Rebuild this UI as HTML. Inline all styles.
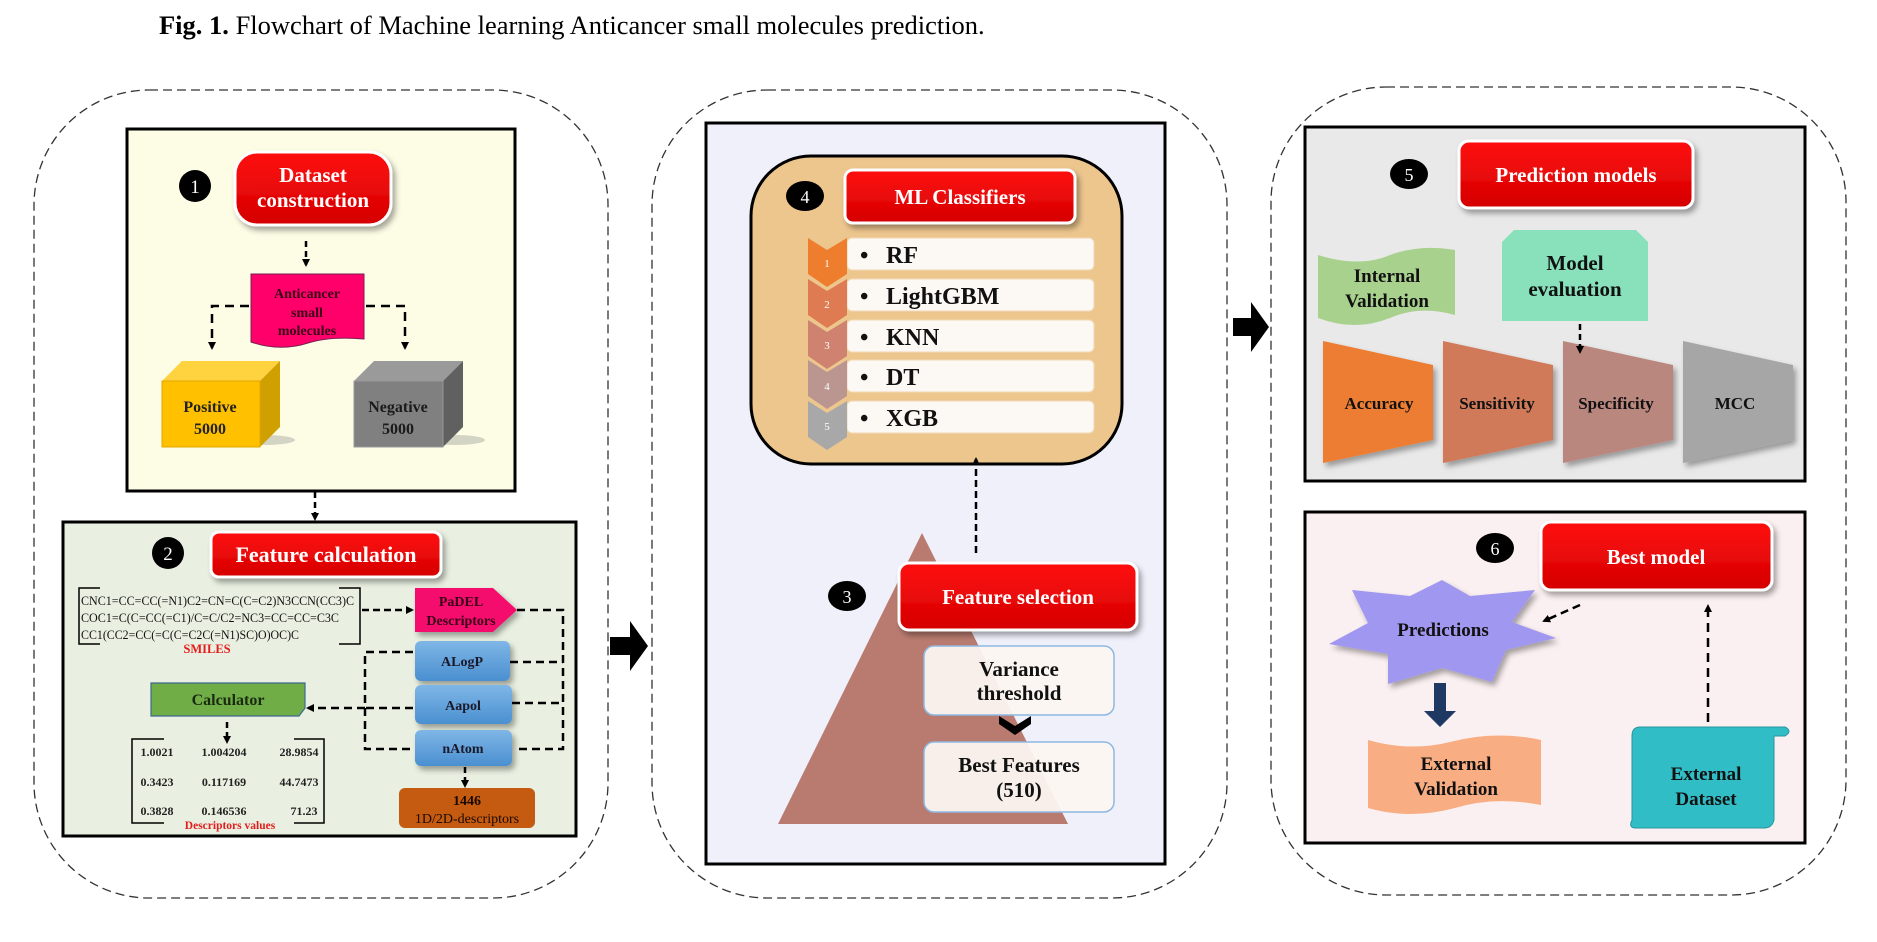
<!DOCTYPE html>
<html><head><meta charset="utf-8"><style>
html,body{margin:0;padding:0;background:#fff;}
svg{display:block;}
text{font-family:"Liberation Serif",serif;}
.b{font-weight:bold;}
</style></head><body>
<svg width="1877" height="942" viewBox="0 0 1877 942" xmlns="http://www.w3.org/2000/svg">
<defs>
<marker id="ah" markerWidth="8" markerHeight="8" refX="6" refY="4" orient="auto" markerUnits="userSpaceOnUse">
<path d="M0,0 L8,4 L0,8 z" fill="#000"/></marker>
<linearGradient id="red" x1="0" y1="0" x2="0" y2="1"><stop offset="0" stop-color="#ff1010"/><stop offset="1" stop-color="#d40000"/></linearGradient>
<linearGradient id="blue" x1="0" y1="0" x2="0" y2="1"><stop offset="0" stop-color="#7fb6e6"/><stop offset="1" stop-color="#4a8fd0"/></linearGradient>
<filter id="sh" x="-20%" y="-20%" width="140%" height="150%"><feDropShadow dx="3" dy="4" stdDeviation="3" flood-color="#000" flood-opacity="0.35"/></filter>
</defs>

<text x="159" y="34" font-size="26.5"><tspan class="b">Fig. 1.</tspan> Flowchart of Machine learning Anticancer small molecules prediction.</text>

<rect x="34" y="90" width="574" height="808" rx="115" fill="none" stroke="#333" stroke-width="1.3" stroke-dasharray="9,5"/>
<rect x="652" y="90" width="575" height="808" rx="115" fill="none" stroke="#333" stroke-width="1.3" stroke-dasharray="9,5"/>
<rect x="1271" y="87" width="575" height="808" rx="115" fill="none" stroke="#333" stroke-width="1.3" stroke-dasharray="9,5"/>

<path d="M610,637 h20 v-16 l18,25 l-18,25 v-16 h-20 z" fill="#000"/>
<path d="M1233,318 h18 v-16 l18,25 l-18,25 v-16 h-18 z" fill="#000"/>

<!-- Panel 1 -->
<rect x="127" y="129" width="388" height="362" fill="#fdfde6" stroke="#000" stroke-width="3"/>
<circle cx="195" cy="186" r="16" fill="#000"/><text x="195" y="193" font-size="19" fill="#fff" text-anchor="middle" font-family="Liberation Sans">1</text>
<rect x="235" y="152" width="156" height="73" rx="22" fill="url(#red)" stroke="#fff" stroke-width="3" filter="url(#sh)"/>
<text x="313" y="182" font-size="21" class="b" fill="#fff" text-anchor="middle">Dataset</text>
<text x="313" y="207" font-size="21" class="b" fill="#fff" text-anchor="middle">construction</text>
<line x1="306" y1="241" x2="306" y2="265" stroke="#000" stroke-width="2.5" stroke-dasharray="6,4" marker-end="url(#ah)"/>
<path d="M251,274 H364 V339 Q330,336 308,343 Q280,352 251,342 Z" fill="#ff006a" stroke="#7a1e50" stroke-width="1"/>
<text x="307" y="298" font-size="14" class="b" fill="#3a0018" text-anchor="middle">Anticancer</text>
<text x="307" y="317" font-size="14" class="b" fill="#3a0018" text-anchor="middle">small</text>
<text x="307" y="335" font-size="14" class="b" fill="#3a0018" text-anchor="middle">molecules</text>
<path d="M249,306 H212 V348" fill="none" stroke="#000" stroke-width="2.5" stroke-dasharray="9,6" marker-end="url(#ah)"/>
<path d="M366,306 H405 V348" fill="none" stroke="#000" stroke-width="2.5" stroke-dasharray="9,6" marker-end="url(#ah)"/>
<ellipse cx="265" cy="440" rx="30" ry="5" fill="#888" opacity="0.35"/>
<path d="M162,381 L182,361 H280 L260,381 Z" fill="#ffd23f"/>
<path d="M260,381 L280,361 V427 L260,447 Z" fill="#cfa000"/>
<rect x="162" y="381" width="98" height="66" fill="#ffc000" stroke="#e0a800" stroke-width="1"/>
<text x="210" y="412" font-size="16" class="b" text-anchor="middle" fill="#222">Positive</text>
<text x="210" y="434" font-size="16" class="b" text-anchor="middle" fill="#222">5000</text>
<ellipse cx="455" cy="440" rx="30" ry="5" fill="#888" opacity="0.35"/>
<path d="M354,381 L374,361 H463 L443,381 Z" fill="#9a9a9a"/>
<path d="M443,381 L463,361 V427 L443,447 Z" fill="#606060"/>
<rect x="354" y="381" width="89" height="66" fill="#808080" stroke="#999" stroke-width="1"/>
<text x="398" y="412" font-size="16" class="b" text-anchor="middle" fill="#1a1a1a">Negative</text>
<text x="398" y="434" font-size="16" class="b" text-anchor="middle" fill="#1a1a1a">5000</text>

<line x1="315" y1="492" x2="315" y2="519" stroke="#000" stroke-width="2.5" stroke-dasharray="6,4" marker-end="url(#ah)"/>

<!-- Box 2 -->
<rect x="63" y="522" width="513" height="314" fill="#e9f0e1" stroke="#000" stroke-width="3"/>
<circle cx="168" cy="553" r="16" fill="#000"/><text x="168" y="560" font-size="19" fill="#fff" text-anchor="middle" font-family="Liberation Sans">2</text>
<rect x="211" y="532" width="230" height="45" rx="8" fill="url(#red)" stroke="#fff" stroke-width="3" filter="url(#sh)"/>
<text x="326" y="562" font-size="22" class="b" fill="#fff" text-anchor="middle">Feature calculation</text>
<path d="M100,588 H79 V644 H100 M339,588 H360 V644 H339" fill="none" stroke="#000" stroke-width="1.5"/>
<text x="81" y="605" font-size="12.5" fill="#111" textLength="273" lengthAdjust="spacingAndGlyphs">CNC1=CC=CC(=N1)C2=CN=C(C=C2)N3CCN(CC3)C</text>
<text x="81" y="622" font-size="12.5" fill="#111" textLength="258" lengthAdjust="spacingAndGlyphs">COC1=C(C=CC(=C1)/C=C/C2=NC3=CC=CC=C3C</text>
<text x="81" y="639" font-size="12.5" fill="#111" textLength="218" lengthAdjust="spacingAndGlyphs">CC1(CC2=CC(=C(C=C2C(=N1)SC)O)OC)C</text>
<text x="207" y="653" font-size="12.5" class="b" fill="#e31c1c" text-anchor="middle">SMILES</text>
<line x1="362" y1="610" x2="412" y2="610" stroke="#000" stroke-width="2.5" stroke-dasharray="7,4" marker-end="url(#ah)"/>
<path d="M415,588 H493 L517,610 L493,632 H415 Z" fill="#f5106e" filter="url(#sh)"/>
<text x="461" y="606" font-size="14" class="b" text-anchor="middle" fill="#3a0018">PaDEL</text>
<text x="461" y="625" font-size="14" class="b" text-anchor="middle" fill="#3a0018">Descriptors</text>
<rect x="415" y="641" width="95" height="40" rx="6" fill="url(#blue)" filter="url(#sh)"/>
<text x="462" y="666" font-size="14" class="b" text-anchor="middle" fill="#1a1a2a">ALogP</text>
<rect x="415" y="685" width="97" height="39" rx="6" fill="url(#blue)" filter="url(#sh)"/>
<text x="463" y="710" font-size="14" class="b" text-anchor="middle" fill="#1a1a2a">Aapol</text>
<rect x="415" y="730" width="97" height="36" rx="6" fill="url(#blue)" filter="url(#sh)"/>
<text x="463" y="753" font-size="14" class="b" text-anchor="middle" fill="#1a1a2a">nAtom</text>
<g fill="none" stroke="#000" stroke-width="2.5" stroke-dasharray="8,5">
<path d="M517,610 H563 V749 H514"/>
<path d="M510,662 H563"/><path d="M512,703 H563"/>
<path d="M413,652 H365 V749 H413"/>
<path d="M413,708 H365"/>
</g>
<line x1="365" y1="708" x2="308" y2="708" stroke="#000" stroke-width="2.5" stroke-dasharray="8,5" marker-end="url(#ah)"/>
<path d="M151,683 H305 V708 L299,716 H151 Z" fill="#70ad47" stroke="#3e6a90" stroke-width="1.2"/>
<text x="228" y="705" font-size="16" class="b" text-anchor="middle" fill="#1a2a10">Calculator</text>
<line x1="227" y1="722" x2="227" y2="742" stroke="#000" stroke-width="2.5" stroke-dasharray="6,4" marker-end="url(#ah)"/>
<path d="M164,739 H132 V823 H164 M294,739 H324 V823 H294" fill="none" stroke="#000" stroke-width="1.5"/>
<g font-size="12" fill="#222" text-anchor="middle" font-weight="bold">
<text x="157" y="756">1.0021</text><text x="224" y="756">1.004204</text><text x="299" y="756">28.9854</text>
<text x="157" y="786">0.3423</text><text x="224" y="786">0.117169</text><text x="299" y="786">44.7473</text>
<text x="157" y="815">0.3828</text><text x="224" y="815">0.146536</text><text x="304" y="815">71.23</text>
</g>
<text x="230" y="829" font-size="11.5" class="b" fill="#e31c1c" text-anchor="middle">Descriptors values</text>
<line x1="465" y1="767" x2="465" y2="786" stroke="#000" stroke-width="2.5" stroke-dasharray="6,4" marker-end="url(#ah)"/>
<rect x="399" y="788" width="136" height="40" rx="6" fill="#c55a11"/>
<text x="467" y="805" font-size="14" class="b" text-anchor="middle" fill="#1a0a00">1446</text>
<text x="467" y="823" font-size="14" text-anchor="middle" fill="#1a0a00">1D/2D-descriptors</text>

<!-- Middle panel -->
<rect x="706" y="123" width="459" height="741" fill="#f0f0fb" stroke="#000" stroke-width="3"/>
<rect x="751" y="156" width="371" height="308" rx="60" fill="#edc68e" stroke="#000" stroke-width="3"/>
<ellipse cx="805" cy="196" rx="19" ry="15" fill="#000"/><text x="805" y="203" font-size="18" fill="#fff" text-anchor="middle" font-family="Liberation Sans">4</text>
<rect x="845" y="170" width="230" height="53" rx="8" fill="url(#red)" stroke="#fff" stroke-width="3" filter="url(#sh)"/>
<text x="960" y="204" font-size="21" class="b" fill="#fff" text-anchor="middle">ML Classifiers</text>
<g>
<rect x="847" y="238" width="247" height="32" rx="5" fill="#fcf8f3" stroke="#f0d9b5"/>
<rect x="847" y="279" width="247" height="32" rx="5" fill="#fcf8f3" stroke="#f0d9b5"/>
<rect x="847" y="320" width="247" height="32" rx="5" fill="#fcf8f3" stroke="#f0d9b5"/>
<rect x="847" y="360" width="247" height="32" rx="5" fill="#fcf8f3" stroke="#f0d9b5"/>
<rect x="847" y="401" width="247" height="32" rx="5" fill="#fcf8f3" stroke="#f0d9b5"/>
<path d="M808,238 L827,250 L847,238 V274 L827,287 L808,274 Z" fill="#ee7d2e"/>
<path d="M808,279 L827,291 L847,279 V315 L827,328 L808,315 Z" fill="#df7b52"/>
<path d="M808,320 L827,332 L847,320 V356 L827,369 L808,356 Z" fill="#ce826f"/>
<path d="M808,360 L827,372 L847,360 V396 L827,409 L808,396 Z" fill="#bb9590"/>
<path d="M808,401 L827,413 L847,401 V437 L827,450 L808,437 Z" fill="#a8a8a8"/>
<g font-size="11" fill="#fff" text-anchor="middle"><text x="827" y="267">1</text><text x="827" y="308">2</text><text x="827" y="349">3</text><text x="827" y="390">4</text><text x="827" y="430">5</text></g>
<g font-size="24" class="b" fill="#111">
<text x="860" y="263">•</text><text x="886" y="263">RF</text>
<text x="860" y="304">•</text><text x="886" y="304">LightGBM</text>
<text x="860" y="345">•</text><text x="886" y="345">KNN</text>
<text x="860" y="385">•</text><text x="886" y="385">DT</text>
<text x="860" y="426">•</text><text x="886" y="426">XGB</text>
</g></g>
<line x1="976" y1="553" x2="976" y2="459" stroke="#000" stroke-width="2.5" stroke-dasharray="7,4" marker-end="url(#ah)"/>
<path d="M922,533 L1068,824 H778 Z" fill="#b97b6f"/>
<ellipse cx="847" cy="596" rx="19" ry="15" fill="#000"/><text x="847" y="603" font-size="18" fill="#fff" text-anchor="middle" font-family="Liberation Sans">3</text>
<rect x="899" y="563" width="238" height="67" rx="10" fill="url(#red)" stroke="#fff" stroke-width="3" filter="url(#sh)"/>
<text x="1018" y="604" font-size="21" class="b" fill="#fff" text-anchor="middle">Feature selection</text>
<rect x="924" y="646" width="190" height="69" rx="10" fill="#fbf5f1" fill-opacity="0.95" stroke="#8db8e3" stroke-width="1.5"/>
<text x="1019" y="676" font-size="21" class="b" text-anchor="middle" fill="#111">Variance</text>
<text x="1019" y="700" font-size="21" class="b" text-anchor="middle" fill="#111">threshold</text>
<path d="M999,716 L1015,726 L1031,716 V724 L1015,735 L999,724 Z" fill="#000"/>
<rect x="924" y="742" width="190" height="70" rx="10" fill="#fbf5f1" fill-opacity="0.95" stroke="#8db8e3" stroke-width="1.5"/>
<text x="1019" y="772" font-size="21" class="b" text-anchor="middle" fill="#111">Best Features</text>
<text x="1019" y="797" font-size="21" class="b" text-anchor="middle" fill="#111">(510)</text>

<!-- Right panel -->
<rect x="1305" y="127" width="500" height="354" fill="#e9e9e9" stroke="#000" stroke-width="3"/>
<ellipse cx="1409" cy="174" rx="19" ry="15" fill="#000"/><text x="1409" y="181" font-size="18" fill="#fff" text-anchor="middle" font-family="Liberation Sans">5</text>
<rect x="1459" y="141" width="234" height="67" rx="10" fill="url(#red)" stroke="#fff" stroke-width="3" filter="url(#sh)"/>
<text x="1576" y="182" font-size="21" class="b" fill="#fff" text-anchor="middle">Prediction models</text>
<path d="M1318,255 Q1360,268 1390,255 Q1420,244 1455,250 V315 Q1420,305 1390,318 Q1355,332 1318,318 Z" fill="#a9d18e"/>
<text x="1387" y="282" font-size="19" class="b" text-anchor="middle" fill="#111">Internal</text>
<text x="1387" y="307" font-size="19" class="b" text-anchor="middle" fill="#111">Validation</text>
<path d="M1514,230 H1636 L1648,242 V321 H1502 V242 Z" fill="#88e1ba"/>
<text x="1575" y="270" font-size="21" class="b" text-anchor="middle" fill="#111">Model</text>
<text x="1575" y="296" font-size="21" class="b" text-anchor="middle" fill="#111">evaluation</text>
<g filter="url(#sh)">
<path d="M1323,341 L1433,365 V440 L1323,463 Z" fill="#ed7d31"/>
<path d="M1443,341 L1553,365 V440 L1443,463 Z" fill="#d07a5a"/>
<path d="M1563,341 L1673,365 V440 L1563,463 Z" fill="#ba877f"/>
<path d="M1683,341 L1793,365 V440 L1683,463 Z" fill="#a6a6a6"/>
</g>
<line x1="1580" y1="324" x2="1580" y2="352" stroke="#000" stroke-width="2.5" stroke-dasharray="6,4" marker-end="url(#ah)"/>
<g font-size="17" class="b" text-anchor="middle" fill="#111">
<text x="1379" y="409">Accuracy</text><text x="1497" y="409">Sensitivity</text><text x="1616" y="409">Specificity</text><text x="1735" y="409">MCC</text>
</g>

<rect x="1305" y="512" width="500" height="331" fill="#fbf0f1" stroke="#000" stroke-width="3"/>
<ellipse cx="1495" cy="548" rx="19" ry="15" fill="#000"/><text x="1495" y="555" font-size="18" fill="#fff" text-anchor="middle" font-family="Liberation Sans">6</text>
<rect x="1541" y="522" width="231" height="68" rx="10" fill="url(#red)" stroke="#fff" stroke-width="3" filter="url(#sh)"/>
<text x="1656" y="564" font-size="21" class="b" fill="#fff" text-anchor="middle">Best model</text>
<path d="M1442,580 L1470,596 L1535,590 L1512,622 L1556,638 L1506,650 L1492,682 L1442,668 L1388,684 L1388,654 L1329,644 L1368,623 L1352,590 L1410,596 Z" fill="#a097f0" filter="url(#sh)"/>
<text x="1443" y="636" font-size="19" class="b" text-anchor="middle" fill="#111">Predictions</text>
<line x1="1580" y1="605" x2="1544" y2="621" stroke="#000" stroke-width="2.5" stroke-dasharray="8,5" marker-end="url(#ah)"/>
<path d="M1434,683 H1446 V711 H1456 L1440,727 L1424,711 H1434 Z" fill="#1f3864"/>
<path d="M1368,740 Q1410,752 1450,742 Q1495,730 1541,740 V805 Q1495,796 1455,808 Q1410,820 1368,808 Z" fill="#f8ad82"/>
<text x="1456" y="770" font-size="19" class="b" text-anchor="middle" fill="#111">External</text>
<text x="1456" y="795" font-size="19" class="b" text-anchor="middle" fill="#111">Validation</text>
<line x1="1708" y1="722" x2="1708" y2="606" stroke="#000" stroke-width="2.5" stroke-dasharray="9,6" marker-end="url(#ah)"/>
<path d="M1640,727 H1785 Q1793,731 1785,736 H1774 V820 Q1772,828 1764,828 H1636 Q1628,828 1632,820 V736 Q1632,727 1640,727 Z" fill="#31bdc6" stroke="#2795a0" stroke-width="1"/>
<text x="1706" y="780" font-size="19" class="b" text-anchor="middle" fill="#111">External</text>
<text x="1706" y="805" font-size="19" class="b" text-anchor="middle" fill="#111">Dataset</text>
</svg>
</body></html>
